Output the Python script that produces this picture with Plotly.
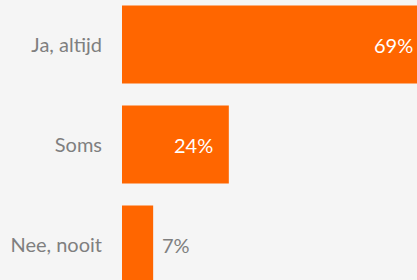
import plotly.graph_objects as go

categories = ["Ja, altijd", "Soms", "Nee, nooit"]
values = [69, 24, 7]
value_labels = ["69%", "24%", "7%"]

ORANGE = "#FF6600"
GREY = "#7F7F7F"
BG = "#F5F5F5"
FONT = "Lato"

x_max = 69.2
plot_left = 122
px_per_unit = 4.45
fig_width = int(round(plot_left + x_max * px_per_unit))

fig = go.Figure(go.Bar(
    x=values,
    y=categories,
    orientation="h",
    marker=dict(color=ORANGE, line=dict(width=0)),
    width=0.78,
    hoverinfo="skip",
))

annotations = []
for cat, v, lab in zip(categories, values, value_labels):
    inside = v >= 15
    annotations.append(dict(
        x=v, y=cat, xref="x", yref="y",
        text=lab, showarrow=False,
        xanchor="right" if inside else "left",
        yanchor="middle",
        xshift=-16 if inside else 9,
        borderpad=0, borderwidth=0,
        font=dict(family=FONT, size=20, color="#FFFFFF" if inside else GREY),
    ))

fig.update_layout(
    width=fig_width,
    height=280,
    margin=dict(l=plot_left, r=0, t=0, b=0),
    paper_bgcolor=BG,
    plot_bgcolor=BG,
    showlegend=False,
    hovermode=False,
    font=dict(family=FONT, size=20, color=GREY),
    annotations=annotations,
)
fig.update_xaxes(range=[0, x_max], visible=False, showgrid=False, zeroline=False)
fig.update_yaxes(
    categoryorder="array",
    categoryarray=categories,
    range=[2.355, -0.445],
    showgrid=False,
    zeroline=False,
    showline=False,
    ticks="",
    ticklabelstandoff=19,
    tickfont=dict(family=FONT, size=20, color=GREY),
)

fig.write_html(
    "out.html",
    config={"displayModeBar": False, "staticPlot": True},
    post_script="document.body.style.margin='0';document.body.style.overflow='hidden';document.body.style.background='" + BG + "';",
)
